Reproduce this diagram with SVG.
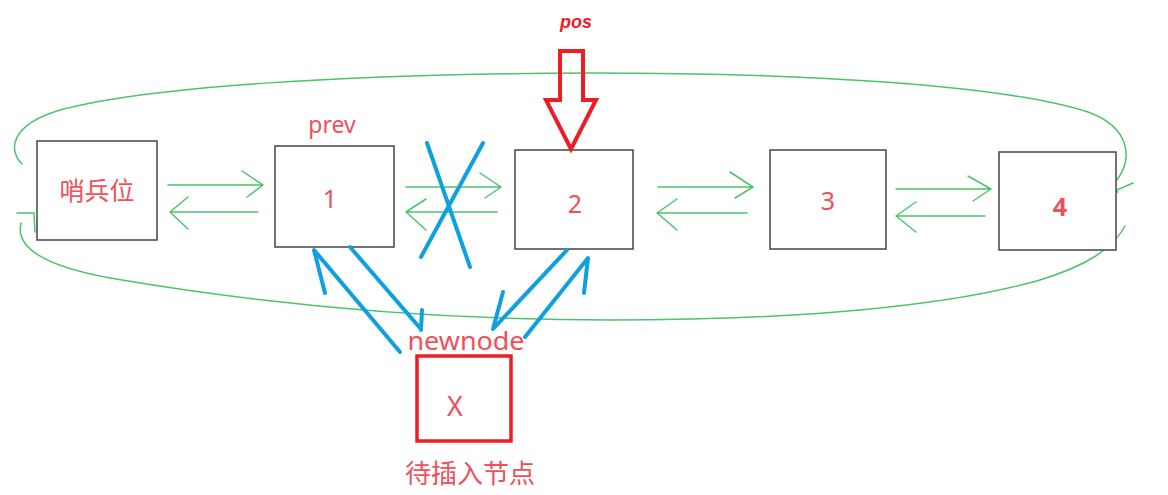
<svg xmlns="http://www.w3.org/2000/svg" width="1168" height="495" viewBox="0 0 1168 495">
<style>
.box{fill:#fff;stroke:#444;stroke-width:1.5}
.lbl{fill:#f0505a;font-family:"Noto Sans","Noto Sans CJK SC",sans-serif}
.g{fill:none;stroke:#4cc46a;stroke-width:1.5;stroke-linecap:round;stroke-linejoin:round}
.b{fill:none;stroke:#0ea0e0;stroke-width:4;stroke-linecap:round;stroke-linejoin:round}
.r{fill:none;stroke:#ee1c24;stroke-width:4}
</style>
<rect width="1168" height="495" fill="#fff"/>
<g id="ring">
<path class="g" d="M22,164 C8,150 10,125 60,110 C150,86 350,74 590,73 C800,73 1000,84 1088,112 C1132,128 1132,160 1117,180"/>
<path class="g" d="M1114,171 L1114,192 L1118,192 M1117,190 L1133,183"/>
<path class="g" d="M1125,226 C1112,250 1085,266 1040,280 C950,306 800,320 610,320 C420,320 250,302 110,278 C45,266 15,248 21,223"/>
<path class="g" d="M17,213 L34,213 L35,232"/>
</g>
<g id="sentinel"><rect class="box" x="37" y="141" width="120" height="99"/><text class="lbl" x="97" y="200" font-size="25" text-anchor="middle">哨兵位</text></g>
<g id="node1"><rect class="box" x="275" y="146" width="119" height="101"/><text class="lbl" x="330" y="208" font-size="25" text-anchor="middle">1</text><text class="lbl" x="332" y="133" font-size="23" text-anchor="middle">prev</text></g>
<g id="node2"><rect class="box" x="515" y="150" width="118" height="99"/><text class="lbl" x="575" y="213" font-size="25" text-anchor="middle">2</text></g>
<g id="node3"><rect class="box" x="770" y="150" width="116" height="99"/><text class="lbl" x="828" y="210" font-size="25" text-anchor="middle">3</text></g>
<g id="node4"><rect class="box" x="999" y="152" width="117" height="98"/><text class="lbl" x="1060" y="216" font-size="25" font-weight="bold" text-anchor="middle">4</text></g>
<g id="newnode"><rect x="417" y="356" width="94" height="85" fill="#fff" stroke="#ee1c24" stroke-width="3.5"/><text class="lbl" x="455" y="416" font-size="27" text-anchor="middle">X</text><text class="lbl" x="466" y="350" font-size="25" text-anchor="middle" textLength="117" lengthAdjust="spacingAndGlyphs">newnode</text><text class="lbl" x="470" y="483" font-size="26" text-anchor="middle">待插入节点</text></g>
<g id="pos"><text x="576" y="28" font-size="18" font-weight="bold" font-style="italic" fill="#ee1c24" font-family="Liberation Sans,sans-serif" text-anchor="middle">pos</text><path class="r" d="M560,51 L583,51 L583,100 L596,100 L571,149 L546,100 L560,100 Z"/></g>
<g id="connectors">
<path class="g" d="M168,185 L262,185 M242,171 L263,185 L247,197 M258,212 L170,212 M188,197 L170,212 L188,229"/>
<path class="g" d="M406,187 L500,187 M480,173 L501,187 L485,198 M497,212 L406,212 M426,199 L406,212 L426,230"/>
<path class="g" d="M658,187 L753,187 M730,172 L753,187 L735,198 M747,213 L657,213 M677,199 L657,213 L677,230"/>
<path class="g" d="M896,189 L990,189 M968,176 L991,189 L973,201 M985,216 L896,216 M916,202 L896,216 L916,232"/>
<path class="b" d="M427,143 L470,267 M483,143 L421,257"/>
<path class="b" d="M400,352 L314,250 L325,293"/>
<path class="b" d="M350,247 L420,328 M422,310 L421,330"/>
<path class="b" d="M567,250 L493,329 L503,292"/>
<path class="b" d="M525,337 L588,258 L584,293"/>
</g>
</svg>
